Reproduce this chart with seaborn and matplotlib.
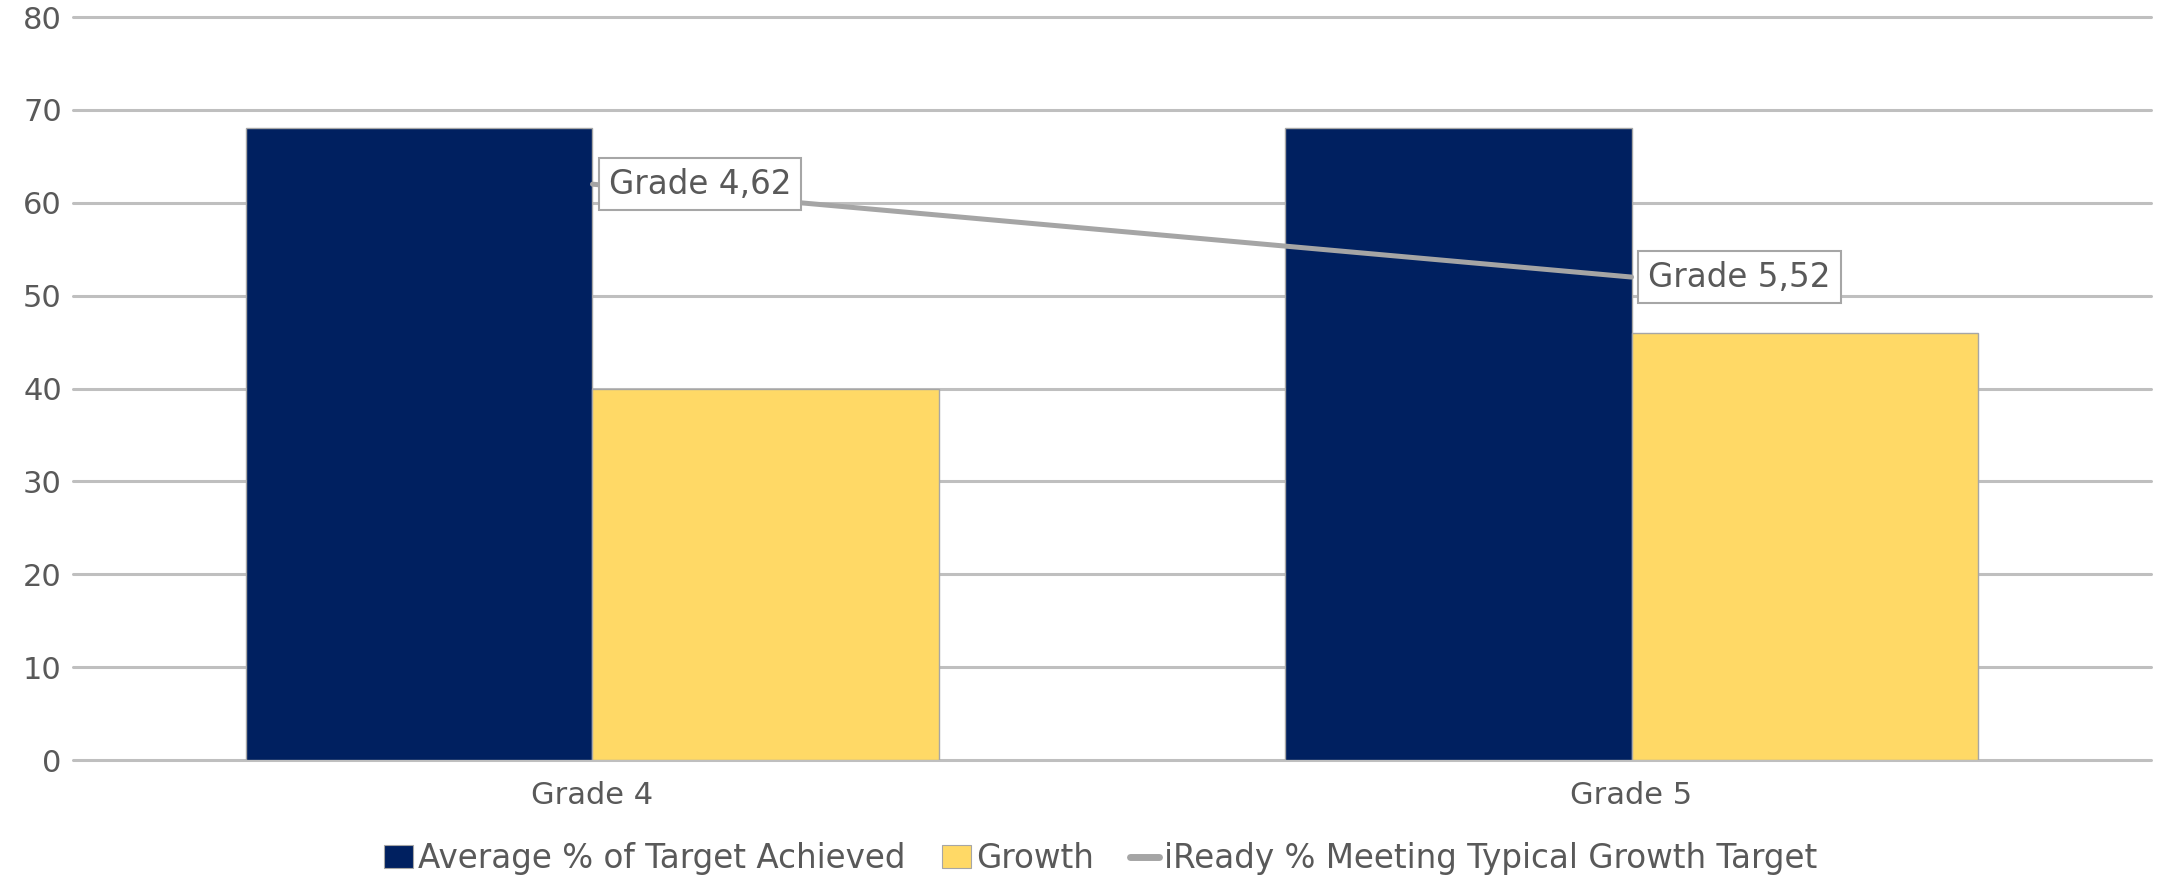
import numpy as np
import pandas as pd
import matplotlib
matplotlib.use("Agg")
import matplotlib.pyplot as plt
import seaborn as sns
from matplotlib.patches import Patch
from matplotlib.lines import Line2D

# Chart data
grades = ["Grade 4", "Grade 5"]
avg_target_achieved = [68, 68]
growth = [40, 46]
iready_typical_growth = [62, 52]
y_ticks = [0, 10, 20, 30, 40, 50, 60, 70, 80]
series_names = [
    "Average % of Target Achieved",
    "Growth",
    "iReady % Meeting Typical Growth Target",
]

# Styling
bar_colors = ["#002060", "#FFD966"]
line_color = "#A5A5A5"
grid_color = "#BFBFBF"
text_color = "#595959"

bars = pd.DataFrame({
    "grade": grades * 2,
    "series": [series_names[0]] * len(grades) + [series_names[1]] * len(grades),
    "value": avg_target_achieved + growth,
})

sns.set_theme(style="white")
plt.rcParams["font.family"] = ["DejaVu Sans"]

fig, ax = plt.subplots(figsize=(21.58, 8.77), dpi=100)
fig.subplots_adjust(left=0.0338, right=0.9968, top=0.9806, bottom=0.1334)

sns.barplot(
    data=bars, x="grade", y="value", hue="series",
    order=grades, hue_order=series_names[:2], palette=bar_colors,
    saturation=1, width=2 / 3, gap=0, edgecolor="#A6A6A6", linewidth=1.0,
    legend=False, ax=ax, zorder=2,
)

sns.lineplot(
    x=np.arange(len(grades)), y=iready_typical_growth,
    color=line_color, linewidth=3.6, legend=False, ax=ax, zorder=3,
)

# Data labels for the line series
for i, (g, v) in enumerate(zip(grades, iready_typical_growth)):
    ax.annotate(
        f"{g},{v}", xy=(i, v), xytext=(12, 0), textcoords="offset points",
        ha="left", va="center", fontsize=23.5, color=text_color, zorder=5,
        bbox=dict(boxstyle="square,pad=0.3", fc="white", ec="#A6A6A6", lw=1.5),
    )

ax.set_xlim(-0.5, len(grades) - 0.5)
ax.set_ylim(0, 80)
ax.set_yticks(y_ticks)
ax.set_xticks(range(len(grades)))
ax.set_xticklabels(grades)
ax.set_xlabel("")
ax.set_ylabel("")

ax.set_axisbelow(True)
ax.yaxis.grid(True, color=grid_color, linewidth=2.2)
ax.xaxis.grid(False)
for gl in ax.get_ygridlines():
    gl.set_clip_on(False)
sns.despine(ax=ax, left=True, bottom=True, top=True, right=True)

ax.tick_params(axis="y", length=0, labelsize=22, labelcolor=text_color, pad=8)
ax.tick_params(axis="x", length=0, labelsize=22, labelcolor=text_color, pad=15)

handles = [
    Patch(facecolor=bar_colors[0], edgecolor="#A6A6A6", linewidth=0.8),
    Patch(facecolor=bar_colors[1], edgecolor="#A6A6A6", linewidth=0.8),
    Line2D([0], [0], color=line_color, linewidth=5),
]
fig.legend(
    handles, series_names, loc="center", bbox_to_anchor=(0.51, 0.021),
    ncol=3, frameon=False, fontsize=23.5, handlelength=0.9, handleheight=0.7,
    handletextpad=0.15, columnspacing=1.1, labelcolor=text_color,
    borderpad=0.2,
)

fig.savefig("out.png", dpi=100)
